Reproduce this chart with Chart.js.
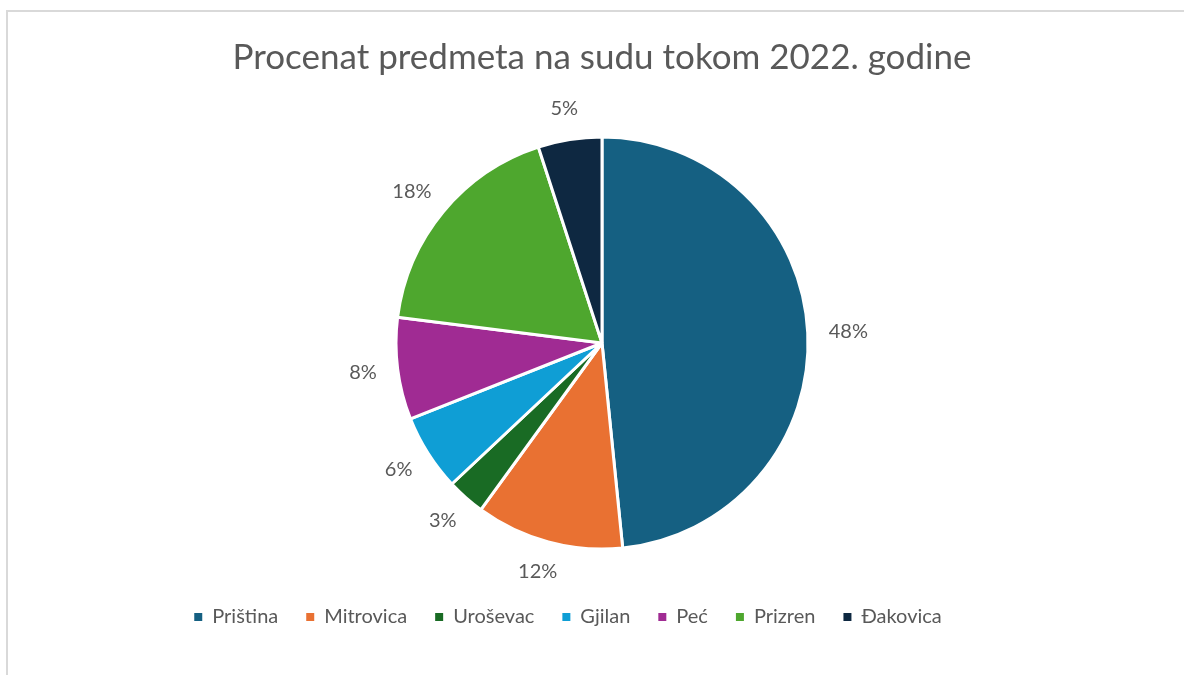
<!DOCTYPE html>
<html>
<head>
<meta charset="utf-8">
<script src="https://cdn.jsdelivr.net/npm/chart.js@4.4.1/dist/chart.umd.min.js"></script>
<style>
  html, body { margin: 0; padding: 0; background: #ffffff; overflow: hidden; }
  #wrap { position: relative; width: 1184px; height: 675px; }
  #frame { position: absolute; left: 6px; top: 10px; width: 1300px; height: 800px;
           border-left: 2px solid #d9d9d9; border-top: 2px solid #d9d9d9; box-sizing: border-box; }
  canvas { position: absolute; left: 0; top: 0; }
</style>
</head>
<body>
<div id="wrap">
  <div id="frame"></div>
  <canvas id="c" width="1184" height="675"></canvas>
</div>
<script>
const titleText = 'Procenat predmeta na sudu tokom 2022. godine';
const categories = ['Priština', 'Mitrovica', 'Uroševac', 'Gjilan', 'Peć', 'Prizren', 'Đakovica'];
const shares = [48.4, 11.6, 3, 6, 8, 18, 5];
const sliceColors = ['#156082', '#E97132', '#196B24', '#0F9ED5', '#A02B93', '#4EA72E', '#0E2841'];

const textColor = '#595959';
const fontFamily = 'Lato, "Open Sans", sans-serif';

const outsideLabels = {
  id: 'outsideLabels',
  afterDatasetsDraw(chart) {
    const ctx = chart.ctx;
    const meta = chart.getDatasetMeta(0);
    ctx.save();
    ctx.font = '20px ' + fontFamily;
    ctx.fillStyle = textColor;
    ctx.textAlign = 'center';
    ctx.textBaseline = 'middle';
    meta.data.forEach((arc, i) => {
      const mid = (arc.startAngle + arc.endAngle) / 2;
      const r = arc.outerRadius + 21;
      const cx = Math.cos(mid), sy = Math.sin(mid);
      const txt = Math.round(shares[i]) + '%';
      const halfW = ctx.measureText(txt).width / 2;
      const halfH = 10;
      const x = arc.x + r * cx + halfW * cx;
      const y = arc.y + r * sy + halfH * sy;
      ctx.fillText(txt, x, y);
    });
    ctx.restore();
  }
};

const shiftLegend = {
  id: 'shiftLegend',
  afterLayout(chart) {
    const lg = chart.legend;
    lg.left -= 34;
    lg.right -= 34;
  }
};

const baseLabels = Chart.overrides.pie.plugins.legend.labels.generateLabels;

new Chart(document.getElementById('c'), {
  type: 'pie',
  data: {
    labels: categories,
    datasets: [{
      data: shares,
      backgroundColor: sliceColors,
      borderColor: '#ffffff',
      borderWidth: 3
    }]
  },
  options: {
    responsive: false,
    animation: false,
    devicePixelRatio: 1,
    radius: 206,
    layout: { padding: { left: 20, right: 0, top: 0, bottom: 38 } },
    plugins: {
      title: {
        display: true,
        text: titleText,
        color: textColor,
        font: { family: fontFamily, size: 35, weight: 'normal' },
        padding: { top: 37, bottom: 28 }
      },
      legend: {
        position: 'bottom',
        labels: {
          color: textColor,
          font: { family: fontFamily, size: 20 },
          boxWidth: 8,
          boxHeight: 8,
          padding: 28,
          generateLabels(chart) {
            return baseLabels(chart).map(it => Object.assign(it, { lineWidth: 0, strokeStyle: it.fillStyle }));
          }
        }
      },
      tooltip: { enabled: false }
    }
  },
  plugins: [outsideLabels, shiftLegend]
});
</script>
</body>
</html>
